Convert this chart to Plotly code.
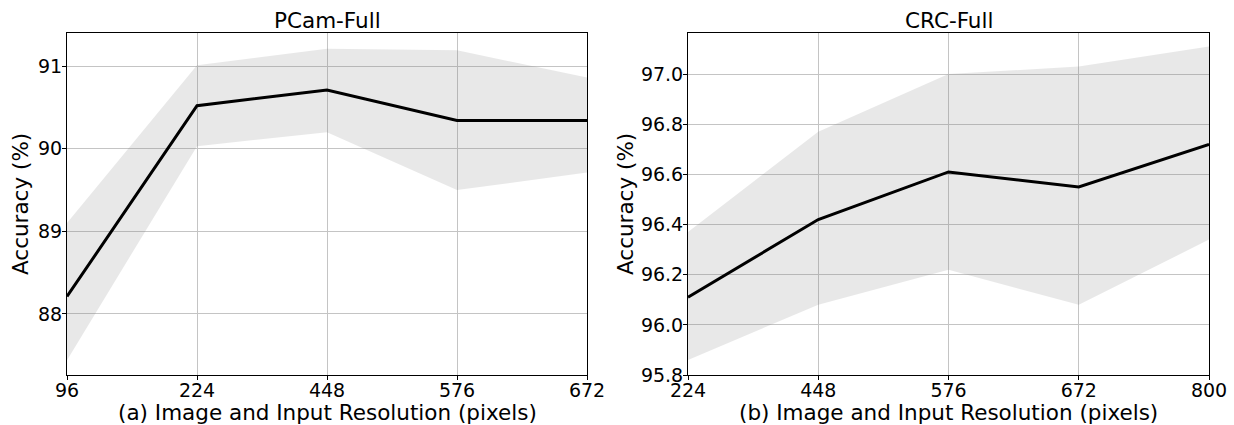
import plotly.graph_objects as go

# Data
pcam_res = ["96", "224", "448", "576", "672"]
pcam_mean = [88.21, 90.52, 90.71, 90.34, 90.34]
pcam_upper = [89.10, 91.01, 91.21, 91.19, 90.86]
pcam_lower = [87.44, 90.03, 90.20, 89.50, 89.71]

crc_res = ["224", "448", "576", "672", "800"]
crc_mean = [96.11, 96.42, 96.61, 96.55, 96.72]
crc_upper = [96.37, 96.77, 97.00, 97.03, 97.11]
crc_lower = [95.86, 96.08, 96.22, 96.08, 96.34]

titles = ["PCam-Full", "CRC-Full"]
xtitles = ["(a) Image and Input Resolution (pixels)", "(b) Image and Input Resolution (pixels)"]
ytitle = "Accuracy (%)"

FONT = "DejaVu Sans"
FILL = "rgba(128,128,128,0.18)"
GRID = "#c4c4c4"
W, H = 1234, 425
TICK = 19
LAB = 21.5

fig = go.Figure()

def add_panel(xs, mean, up, lo, xa, ya):
    fig.add_trace(go.Scatter(x=xs, y=up, mode="lines", line=dict(width=0),
                             xaxis=xa, yaxis=ya, showlegend=False, hoverinfo="skip"))
    fig.add_trace(go.Scatter(x=xs, y=lo, mode="lines", line=dict(width=0),
                             fill="tonexty", fillcolor=FILL,
                             xaxis=xa, yaxis=ya, showlegend=False, hoverinfo="skip"))
    fig.add_trace(go.Scatter(x=xs, y=mean, mode="lines", line=dict(color="black", width=3),
                             xaxis=xa, yaxis=ya, showlegend=False))

add_panel(pcam_res, pcam_mean, pcam_upper, pcam_lower, "x", "y")
add_panel(crc_res, crc_mean, crc_upper, crc_lower, "x2", "y2")

axis_common = dict(showline=True, mirror=True, linecolor="black", linewidth=1,
                   showgrid=True, gridcolor=GRID, gridwidth=1, zeroline=False,
                   ticks="outside", ticklen=4, tickcolor="black", automargin=False,
                   tickfont=dict(family=FONT, size=TICK, color="black"))

dom1 = [67 / W, 587 / W]
dom2 = [688 / W, 1209 / W]

fig.update_layout(
    width=W, height=H,
    margin=dict(l=0, r=0, t=33, b=50),
    paper_bgcolor="white", plot_bgcolor="white",
    font=dict(family=FONT, size=TICK, color="black"),
    xaxis=dict(domain=dom1, type="category", range=[0, 4], anchor="y",
               ticklabelstandoff=-6, **axis_common),
    yaxis=dict(range=[87.26, 91.4], dtick=1, tick0=88, anchor="x",
               ticklabelstandoff=-4, **axis_common),
    xaxis2=dict(domain=dom2, type="category", range=[0, 4], anchor="y2",
                ticklabelstandoff=-6, **axis_common),
    yaxis2=dict(range=[95.8, 97.164], dtick=0.2, tick0=95.8, tickformat=".1f",
                anchor="x2", ticklabelstandoff=-4, **axis_common),
)

annots = []
for dom, t, xt, ysh in [(dom1, titles[0], xtitles[0], -47), (dom2, titles[1], xtitles[1], -63)]:
    cx = (dom[0] + dom[1]) / 2
    annots.append(dict(text=t, x=cx, y=1, xref="paper", yref="paper",
                       xanchor="center", yanchor="middle", yshift=13, showarrow=False,
                       font=dict(family=FONT, size=LAB, color="black")))
    annots.append(dict(text=xt, x=cx, y=0, xref="paper", yref="paper",
                       xanchor="center", yanchor="middle", yshift=-37, showarrow=False,
                       font=dict(family=FONT, size=LAB, color="black")))
    annots.append(dict(text=ytitle, x=dom[0], y=0.5, xref="paper", yref="paper",
                       xanchor="center", yanchor="middle", xshift=ysh, textangle=-90,
                       showarrow=False, font=dict(family=FONT, size=LAB, color="black")))
fig.update_layout(annotations=annots)

fig.write_html("out.html", config={"displayModeBar": False},
               post_script="document.body.style.margin='0';")
